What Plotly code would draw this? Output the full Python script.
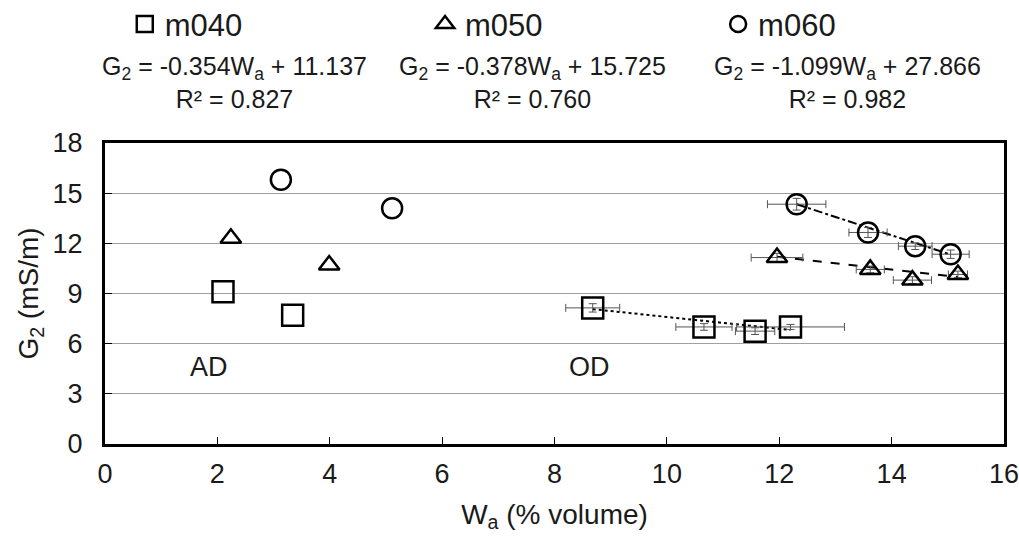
import plotly.graph_objects as go

FONT = "Liberation Sans, Arial"

series = ["m040", "m050", "m060"]
symbols = ["square-open", "triangle-up-open", "circle-open"]
legend_ids = ["legend", "legend2", "legend3"]

# AD points
ad_x = {"m040": [2.10, 3.34], "m050": [2.24, 3.99], "m060": [3.13, 5.11]}
ad_y = {"m040": [9.1, 7.7], "m050": [12.3, 10.7], "m060": [15.8, 14.1]}

# OD points
od_x = {"m040": [8.68, 10.66, 11.57, 12.20],
        "m050": [11.96, 13.62, 14.37, 15.18],
        "m060": [12.31, 13.58, 14.42, 15.05]}
od_y = {"m040": [8.14, 7.0, 6.75, 7.0],
        "m050": [11.15, 10.44, 9.8, 10.14],
        "m060": [14.34, 12.65, 11.83, 11.35]}
od_xerr = {"m040": [0.48, 0.50, 0.35, 0.96],
           "m050": [0.46, 0.25, 0.34, 0.17],
           "m060": [0.52, 0.34, 0.30, 0.33]}
od_yerr = {"m040": [0.25, 0.2, 0.2, 0.15],
           "m050": [0.25, 0.2, 0.2, 0.2],
           "m060": [0.35, 0.3, 0.2, 0.25]}

slopes = {"m040": -0.354, "m050": -0.378, "m060": -1.099}
intercepts = {"m040": 11.137, "m050": 15.725, "m060": 27.866}
r2 = {"m040": 0.827, "m050": 0.760, "m060": 0.982}
dashes = {"m040": "dot", "m050": "dash", "m060": "dashdot"}

fig = go.Figure()

for s, sym, lg in zip(series, symbols, legend_ids):
    size = {"square-open": 21, "triangle-up-open": 18, "circle-open": 20}[sym]
    # trend line across the OD points
    xs = [min(od_x[s]), max(od_x[s])]
    ys = [slopes[s] * v + intercepts[s] for v in xs]
    fig.add_trace(go.Scatter(x=xs, y=ys, mode="lines", showlegend=False,
                             line=dict(color="black", width=2, dash=dashes[s])))
    fig.add_trace(go.Scatter(
        x=od_x[s], y=od_y[s], mode="markers", showlegend=False,
        marker=dict(symbol=sym, size=size, color="black", line=dict(width=2.5, color="black")),
        error_x=dict(type="data", array=od_xerr[s], color="#555", thickness=1, width=4),
        error_y=dict(type="data", array=od_yerr[s], color="#555", thickness=1, width=4)))
    fig.add_trace(go.Scatter(
        x=ad_x[s], y=ad_y[s], mode="markers", name=s, legend=lg,
        marker=dict(symbol=sym, size=size, color="black", line=dict(width=2.5, color="black"))))

# equation annotations
eq_x = [0.1435, 0.476, 0.826]
for s, xp in zip(series, eq_x):
    txt = (f"G<sub>2</sub> = {slopes[s]:.3f}W<sub>a</sub> + {intercepts[s]:.3f}"
           f"<br>R² = {r2[s]:.3f}")
    fig.add_annotation(x=xp, y=1.202, xref="paper", yref="paper", text=txt,
                       showarrow=False, xanchor="center", yanchor="middle",
                       font=dict(size=25, color="#1a1a1a", family=FONT), align="center")

fig.add_annotation(x=1.85, y=4.59, text="AD", showarrow=False,
                   font=dict(size=27, color="#1a1a1a", family=FONT))
fig.add_annotation(x=8.63, y=4.59, text="OD", showarrow=False,
                   font=dict(size=27, color="#1a1a1a", family=FONT))

leg_common = dict(orientation="h", yanchor="middle", xanchor="left", y=1.394,
                  font=dict(size=31, family=FONT, color="#1a1a1a"),
                  bgcolor="rgba(0,0,0,0)", borderwidth=0)
fig.update_layout(
    width=1019, height=542,
    margin=dict(l=105, r=15, t=143, b=98, autoexpand=False),
    plot_bgcolor="white", paper_bgcolor="white",
    font=dict(family=FONT, color="#1a1a1a", size=27),
    legend=dict(x=0.022, **leg_common),
    legend2=dict(x=0.356, **leg_common),
    legend3=dict(x=0.682, **leg_common),
)
fig.update_xaxes(range=[0, 16], dtick=2, showgrid=False, zeroline=False,
                 showline=True, linewidth=3, linecolor="black", mirror=True,
                 ticks="inside", ticklen=7, tickcolor="black", tickwidth=1,
                 tickfont=dict(size=27), ticklabelstandoff=4, ticklabeloverflow="allow",
                 title=dict(text="W<sub>a</sub> (% volume)", font=dict(size=28), standoff=16))
fig.update_yaxes(range=[0, 18], dtick=3, showgrid=True, gridcolor="#a0a0a0", gridwidth=1.3,
                 zeroline=False, showline=True, linewidth=3, linecolor="black", mirror=True,
                 ticks="inside", ticklen=7, tickcolor="black", tickwidth=1,
                 tickfont=dict(size=27), ticklabelstandoff=14, ticklabeloverflow="allow",
                 title=dict(text="G<sub>2</sub> (mS/m)", font=dict(size=28), standoff=6))

fig.write_html("out.html")
